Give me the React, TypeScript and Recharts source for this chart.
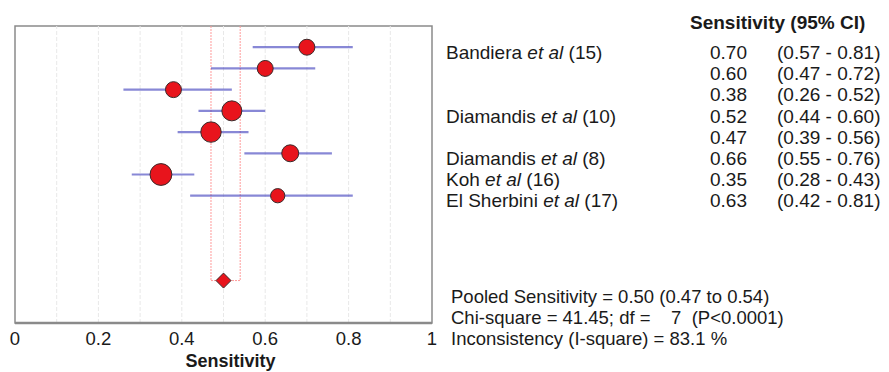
import {
  ScatterChart,
  Scatter,
  XAxis,
  YAxis,
  ZAxis,
  ErrorBar,
  ReferenceLine,
  ReferenceArea,
} from 'recharts';

// study rows, top to bottom
const authors = ['Bandiera', '', '', 'Diamandis', '', 'Diamandis', 'Koh', 'El Sherbini'];
const refs = [15, null, null, 10, null, 8, 16, 17];
const sensitivity = [0.7, 0.6, 0.38, 0.52, 0.47, 0.66, 0.35, 0.63];
const ciLow = [0.57, 0.47, 0.26, 0.44, 0.39, 0.55, 0.28, 0.42];
const ciHigh = [0.81, 0.72, 0.52, 0.6, 0.56, 0.76, 0.43, 0.81];
const weights = [10.0, 10.0, 10.0, 15.7, 16.4, 11.3, 18.7, 8.0];

// pooled estimate
const pooled = { est: 0.5, low: 0.47, high: 0.54 };
const chiSquare = 41.45;
const df = 7;
const pValue = 'P<0.0001';
const iSquare = 83.1;

const xTicks = [0, 0.2, 0.4, 0.6, 0.8, 1];
const gridTicks = [0.1, 0.2, 0.3, 0.4, 0.5, 0.6, 0.7, 0.8, 0.9];

const POOLED_ROW = 11;
const FONT = '"Liberation Sans", Arial, sans-serif';
const FS = 19;

const rows = sensitivity.map((s, i) => ({
  row: i,
  sens: s,
  w: weights[i],
  err: [s - ciLow[i], ciHigh[i] - s],
}));
const pooledData = [{ row: POOLED_ROW, sens: pooled.est }];

const fmt = (v: number) => v.toFixed(2);

const RightTick = (props: any) => {
  const { x, y, payload } = props;
  const v = payload.value;
  if (v === -1) {
    return (
      <text x={x + 258} y={y - 4} dy="0.35em" fontFamily={FONT} fontSize={FS} fontWeight="bold" fill="#1a1a1a">
        Sensitivity (95% CI)
      </text>
    );
  }
  const i = v as number;
  return (
    <g fontFamily={FONT} fontSize={FS} fill="#1a1a1a">
      {authors[i] && (
        <text x={x + 14} y={y + 5} dy="0.35em">
          {authors[i]} <tspan fontStyle="italic">et al</tspan> ({refs[i]})
        </text>
      )}
      <text x={x + 315} y={y + 5} dy="0.35em" textAnchor="end">
        {fmt(sensitivity[i])}
      </text>
      <text x={x + 345} y={y + 5} dy="0.35em">
        ({fmt(ciLow[i])} - {fmt(ciHigh[i])})
      </text>
    </g>
  );
};

const Diamond = (props: any) => {
  const { cx, cy } = props;
  const h = 7.5;
  return (
    <polygon
      points={`${cx - h},${cy} ${cx},${cy - h} ${cx + h},${cy} ${cx},${cy + h}`}
      fill="#e8141c"
      stroke="#3a2a2a"
      strokeWidth={1}
    />
  );
};

export default function App() {
  return (
    <div style={{ position: 'relative', width: 881, height: 364, background: '#fff' }}>
      <ScatterChart width={881} height={364} margin={{ top: 18, right: 0, bottom: 0, left: 7 }}>
        <XAxis
          type="number"
          dataKey="sens"
          domain={[0, 1]}
          ticks={xTicks}
          tickFormatter={(v) => String(v)}
          tickLine={false}
          tickSize={0}
          tickMargin={9}
          axisLine={false}
          height={49}
          tick={{ fill: '#1a1a1a', fontSize: 18.5, fontFamily: FONT }}
          label={{
            value: 'Sensitivity',
            position: 'insideBottom',
            offset: 5,
            dx: 7,
            style: { fontWeight: 'bold', fontSize: 18, fontFamily: FONT, fill: '#1a1a1a' },
          }}
        />
        <YAxis
          type="number"
          dataKey="row"
          orientation="right"
          domain={[-1, 13]}
          reversed
          ticks={[-1, 0, 1, 2, 3, 4, 5, 6, 7]}
          tick={<RightTick />}
          tickLine={false}
          tickSize={0}
          tickMargin={0}
          axisLine={false}
          width={457}
          interval={0}
        />
        <ZAxis type="number" dataKey="w" domain={[0, 20]} range={[0, 400]} />
        {gridTicks.map((g) => (
          <ReferenceLine key={g} x={g} stroke="#e8e8e8" strokeWidth={1} strokeDasharray="4 2" />
        ))}
        <ReferenceLine
          segment={[{ x: pooled.low, y: -1 }, { x: pooled.low, y: POOLED_ROW }]}
          stroke="#ff9a9a"
          strokeDasharray="2 1"
          strokeWidth={1}
        />
        <ReferenceLine
          segment={[{ x: pooled.high, y: -1 }, { x: pooled.high, y: POOLED_ROW }]}
          stroke="#ff9a9a"
          strokeDasharray="2 1"
          strokeWidth={1}
        />
        <ReferenceLine
          segment={[{ x: pooled.low, y: POOLED_ROW }, { x: pooled.high, y: POOLED_ROW }]}
          stroke="#ff9a9a"
          strokeDasharray="2 1"
          strokeWidth={1}
        />
        <ReferenceArea x1={0} x2={1} y1={-1} y2={13} fill="none" stroke="#8a8a8a" strokeWidth={1.5} />
        <ReferenceLine y={13} stroke="#8a8a8a" strokeWidth={2.5} />
        <Scatter
          data={rows}
          fill="#e8141c"
          stroke="#3a2a2a"
          strokeWidth={1}
          isAnimationActive={false}
        />
        <Scatter data={rows} shape={() => null} isAnimationActive={false}>
          <ErrorBar
            dataKey="err"
            direction="x"
            width={0}
            stroke="#4848c0"
            strokeOpacity={0.65}
            strokeWidth={2.2}
          />
        </Scatter>
        <Scatter data={pooledData} shape={<Diamond />} isAnimationActive={false} />
      </ScatterChart>
      <div
        style={{
          position: 'absolute',
          left: 443,
          top: 278,
          fontFamily: FONT,
          fontSize: 18.5,
          lineHeight: '21px',
          color: '#1a1a1a',
          whiteSpace: 'pre',
        }}
      >
        <div>{`Pooled Sensitivity = ${fmt(pooled.est)} (${fmt(pooled.low)} to ${fmt(pooled.high)})`}</div>
        <div>{`Chi-square = ${chiSquare}; df =    ${df}  (${pValue})`}</div>
        <div>{`Inconsistency (I-square) = ${iSquare} %`}</div>
      </div>
    </div>
  );
}
